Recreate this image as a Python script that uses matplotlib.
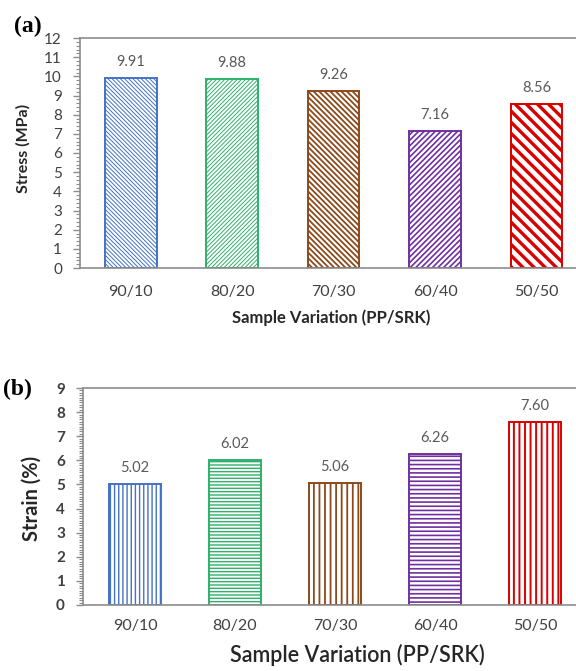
import matplotlib
matplotlib.use('Agg')
import matplotlib.pyplot as plt
from matplotlib.ticker import MultipleLocator, AutoMinorLocator

categories = ['90/10', '80/20', '70/30', '60/40', '50/50']
stress = [9.91, 9.88, 9.26, 7.16, 8.56]
strain = [5.02, 6.02, 5.06, 6.26, 7.60]
colors = ['#4472C4', '#2EB16A', '#8B4A1C', '#7030A0', '#D80000']
hatch_a = ['\\' * 8, '/' * 8, '\\' * 6, '/' * 6, '\\' * 3]
hatch_lw_a = [0.7, 0.7, 1.3, 1.2, 2.4]
hatch_b = ['||||', '-----', '|||', '----', '|||']
hatch_lw_b = [1.0, 1.0, 1.3, 1.2, 1.4]

plt.rcParams['font.family'] = ['Lato', 'DejaVu Sans']
GRAY = '#8c8c8c'
TXT = '#404040'
VAL = '#595959'
LAB = '#262626'

fig = plt.figure(figsize=(5.76, 6.71), dpi=100)
W, H = 576, 671
ax1 = fig.add_axes([80 / W, 1 - 268 / H, 1 - 80 / W, (268 - 38) / H])
ax2 = fig.add_axes([83 / W, 1 - 605 / H, 1 - 83 / W, (605 - 388) / H])


def draw(ax, vals, hatches, lws, width, xlim, ylim, minor, xpad):
    x = list(range(len(categories)))
    for i, v in enumerate(vals):
        with plt.rc_context({'hatch.linewidth': lws[i], 'hatch.color': colors[i]}):
            ax.bar(x[i], v, width=width, facecolor='white', edgecolor=colors[i],
                   hatch=hatches[i], linewidth=1.4)
        ax.annotate(f'{v:.2f}', (x[i], v), xytext=(0, 11.5), textcoords='offset points',
                    ha='center', va='center', color=VAL, fontsize=10.5)
    ax.set_xlim(*xlim)
    ax.set_ylim(*ylim)
    ax.set_xticks(x)
    ax.set_xticklabels(categories)
    ax.yaxis.set_major_locator(MultipleLocator(1))
    ax.yaxis.set_minor_locator(AutoMinorLocator(minor))
    ax.spines['right'].set_visible(False)
    for s in ['left', 'top', 'bottom']:
        ax.spines[s].set_color(GRAY)
        ax.spines[s].set_linewidth(1.2)
    ax.tick_params(axis='x', length=0, colors=TXT, labelsize=11.5, pad=xpad)
    ax.tick_params(axis='y', which='major', length=5, width=1, color=GRAY,
                   direction='out', labelsize=11, labelcolor=TXT, pad=8)
    ax.tick_params(axis='y', which='minor', length=3, width=0.8, color=GRAY, direction='out')


draw(ax1, stress, hatch_a, hatch_lw_a, 0.51, (-0.50, 4.39), (0, 12), 5, 12)
draw(ax2, strain, hatch_b, hatch_lw_b, 0.52, (-0.52, 4.41), (0, 9), 10, 10)

for lab in ax2.get_yticklabels():
    lab.set_fontweight('bold')

fig.text(23 / W, 1 - 148 / H, 'Stress (MPa)', rotation=90, ha='center', va='center',
         fontsize=11.5, fontweight='bold', color=LAB)
fig.text(331 / W, 1 - 318 / H, 'Sample Variation (PP/SRK)', ha='center', va='center',
         fontsize=12, fontweight='bold', color=LAB)
fig.text(32 / W, 1 - 498 / H, 'Strain (%)', rotation=90, ha='center', va='center',
         fontsize=14.5, fontweight='bold', color=LAB)
fig.text(357 / W, 1 - 655 / H, 'Sample Variation (PP/SRK)', ha='center', va='center',
         fontsize=15.5, fontweight='semibold', color=LAB)

fig.text(28 / W, 1 - 26 / H, '(a)', ha='center', va='center', fontsize=17,
         fontweight='bold', family=['Liberation Serif', 'DejaVu Serif'], color='black')
fig.text(17 / W, 1 - 389 / H, '(b)', ha='center', va='center', fontsize=17,
         fontweight='bold', family=['Liberation Serif', 'DejaVu Serif'], color='black')

fig.savefig('out.png', dpi=100)
